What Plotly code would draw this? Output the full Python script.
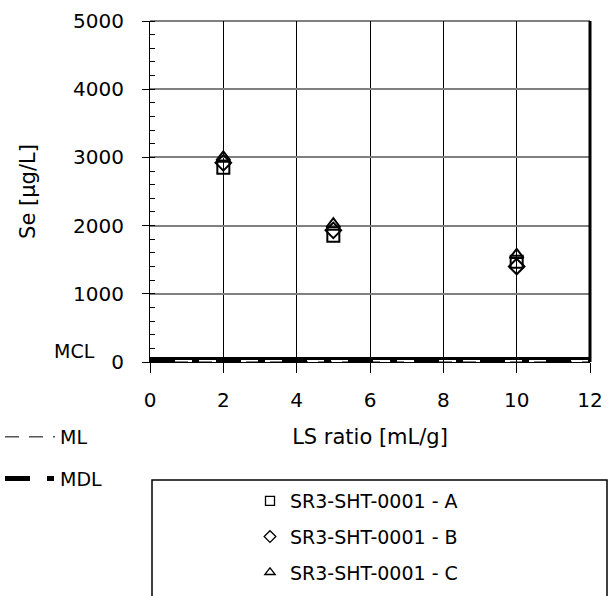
import plotly.graph_objects as go

# ---- data ----
ls_ratio = [2, 5, 10]
se_A = [2850, 1850, 1470]
se_B = [2920, 1930, 1400]
se_C = [3000, 2020, 1570]
series_names = ["SR3-SHT-0001 - A", "SR3-SHT-0001 - B", "SR3-SHT-0001 - C"]
series_symbols = ["square-open", "diamond-open", "triangle-up-open"]
x_line = [0, 12]
MCL_value = 50
ML_value = 0
MDL_value = 0
x_ticks = [0, 2, 4, 6, 8, 10, 12]
y_ticks = [0, 1000, 2000, 3000, 4000, 5000]

FONT = "DejaVu Sans"
W, H = 613, 596
L, R, T, B = 150, 23, 21, 234
pw, ph = W - L - R, H - T - B

def px_x(p):
    return (p - L) / pw

def px_y(p):
    return (H - B - p) / ph

fig = go.Figure()

# threshold lines
fig.add_trace(go.Scatter(x=x_line, y=[MCL_value] * 2, mode="lines", name="MCL",
                         line=dict(color="black", width=3), showlegend=False,
                         cliponaxis=False, hoverinfo="skip"))
fig.add_trace(go.Scatter(x=x_line, y=[ML_value] * 2, mode="lines", name="ML",
                         line=dict(color="black", width=1, dash="14px,10px"),
                         legend="legend2", legendgroup="ML", cliponaxis=False))
fig.add_trace(go.Scatter(x=x_line, y=[MDL_value] * 2, mode="lines", name="MDL",
                         line=dict(color="black", width=5, dash="25px,17px,7px,17px"),
                         legend="legend2", legendgroup="MDL", cliponaxis=False))

# data series
for ys, nm, sym in zip([se_A, se_B, se_C], series_names, series_symbols):
    fig.add_trace(go.Scatter(x=ls_ratio, y=ys, mode="markers", name=nm,
                             marker=dict(symbol=sym, size=12, color="black",
                                         line=dict(color="black", width=2)),
                             showlegend=False))
    fig.add_trace(go.Scatter(x=[None], y=[None], mode="markers", name=nm,
                             marker=dict(symbol=sym, size=9, color="black",
                                         line=dict(color="black", width=1.3)),
                             legend="legend", legendgroup=nm))

fig.update_layout(
    width=W, height=H,
    margin=dict(l=L, r=R, t=T, b=B, autoexpand=False),
    paper_bgcolor="white", plot_bgcolor="white",
    font=dict(family=FONT, size=20, color="black"),
    xaxis=dict(range=[0, 12], tickvals=x_ticks, showgrid=True,
               gridcolor="black", gridwidth=1, zeroline=False,
               showline=True, linecolor="black", linewidth=1,
               ticks="outside", ticklen=10, tickcolor="black",
               ticklabelstandoff=10, automargin=False,
               title=dict(text="LS ratio [mL/g]", font=dict(size=21), standoff=18),
               mirror=False),
    yaxis=dict(range=[0, 5000], tickvals=y_ticks, showgrid=True,
               gridcolor="#808080", gridwidth=1.5, zeroline=False,
               showline=True, linecolor="black", linewidth=1,
               ticks="outside", ticklen=7, tickcolor="black",
               ticklabelstandoff=14, automargin=False,
               minor=dict(dtick=200, ticks="inside", ticklen=5,
                          tickcolor="black", showgrid=False),
               title=dict(text="Se [µg/L]", font=dict(size=21), standoff=31)),
    legend=dict(x=px_x(250), y=px_y(482), xanchor="left", yanchor="top",
                bgcolor="rgba(0,0,0,0)", borderwidth=0,
                font=dict(size=19), traceorder="grouped", tracegroupgap=8),
    legend2=dict(x=px_x(0), y=px_y(418), xanchor="left", yanchor="top",
                 bgcolor="rgba(0,0,0,0)", borderwidth=0,
                 font=dict(size=19), itemwidth=50,
                 traceorder="grouped", tracegroupgap=14),
    shapes=[
        dict(type="line", xref="paper", yref="paper", x0=0, x1=1, y0=1, y1=1,
             line=dict(color="black", width=1)),
        dict(type="line", xref="paper", yref="paper", x0=1, x1=1, y0=0, y1=1,
             line=dict(color="black", width=3)),
        dict(type="rect", xref="paper", yref="paper",
             x0=px_x(152), x1=px_x(607), y0=px_y(480), y1=px_y(620),
             line=dict(color="black", width=1.5)),
    ],
    annotations=[
        dict(text="MCL", xref="paper", yref="y", x=px_x(74), y=MCL_value,
             xanchor="center", yanchor="middle", yshift=8, showarrow=False,
             font=dict(size=19)),
    ],
)

fig.write_html("out.html")
